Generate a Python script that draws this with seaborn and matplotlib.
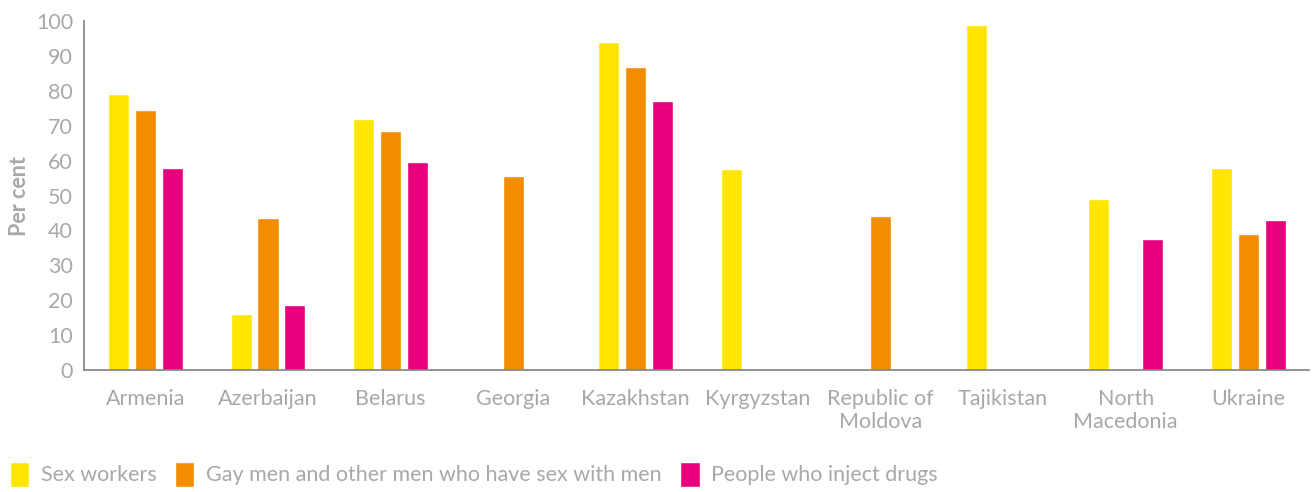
import pandas as pd
import matplotlib.pyplot as plt
import seaborn as sns

sns.set_theme(style="white")
plt.rcParams['font.family'] = ['Lato', 'DejaVu Sans']

countries = ['Armenia', 'Azerbaijan', 'Belarus', 'Georgia', 'Kazakhstan',
             'Kyrgyzstan', 'Republic of\nMoldova', 'Tajikistan',
             'North\nMacedonia', 'Ukraine']
groups = ['Sex workers', 'Gay men and other men who have sex with men',
          'People who inject drugs']

# None = no data
sex_workers = [79, 16, 72, None, 94, 57.5, None, 99, 49, 58]
msm = [74.5, 43.5, 68.5, 55.5, 87, None, 44, None, None, 39]
pwid = [58, 18.5, 59.5, None, 77, None, None, None, 37.5, 43]

colors = ['#FFE600', '#F28C00', '#E6007E']
grey = '#A8A8A8'

rows = []
for grp, vals in zip(groups, [sex_workers, msm, pwid]):
    for c, v in zip(countries, vals):
        if v is not None:
            rows.append({'country': c, 'group': grp, 'value': v})
df = pd.DataFrame(rows)

fig = plt.figure(figsize=(13.16, 4.92), dpi=100)
ax = fig.add_axes([0.064, 0.248, 0.931, 0.709])

sns.barplot(data=df, x='country', y='value', hue='group', order=countries,
            hue_order=groups, palette=colors, width=0.66, gap=0.22,
            saturation=1, errorbar=None, ax=ax, legend=True)

ax.set_ylim(0, 100)
ax.set_yticks(range(0, 101, 10))
ax.set_xlim(-0.5, len(countries) - 0.5)
ax.tick_params(axis='both', length=0, labelsize=15.5, labelcolor=grey)
ax.tick_params(axis='x', pad=14)
ax.tick_params(axis='y', pad=8)
ax.set_ylabel('Per cent', fontsize=15.5, fontweight='bold', color=grey, labelpad=4)
ax.set_xlabel('')
for lbl in ax.get_xticklabels():
    lbl.set_linespacing(1.15)
for s in ['top', 'right']:
    ax.spines[s].set_visible(False)
for s in ['left', 'bottom']:
    ax.spines[s].set_color('#808080')
    ax.spines[s].set_linewidth(1.2)

handles, labels = ax.get_legend_handles_labels()
ax.get_legend().remove()
fig.legend(handles, labels, loc='lower left', bbox_to_anchor=(-0.004, -0.02),
           ncol=3, frameon=False, fontsize=15.5, labelcolor=grey,
           handlelength=0.9, handleheight=1.4, handletextpad=0.55,
           columnspacing=0.85, borderaxespad=0.3)

fig.savefig('out.png', dpi=100)
